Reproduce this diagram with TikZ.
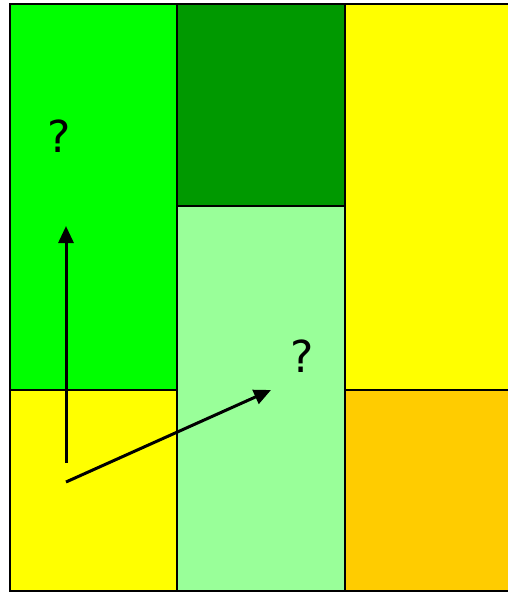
\documentclass[tikz,border=0pt]{standalone}
\usepackage{fontspec}
\setmainfont{DejaVu Sans}
\usetikzlibrary{arrows.meta}
\definecolor{cgreen}{RGB}{0,255,0}
\definecolor{cdark}{RGB}{0,153,0}
\definecolor{clight}{RGB}{153,255,153}
\definecolor{cyel}{RGB}{255,255,0}
\definecolor{corange}{RGB}{255,204,0}
\begin{document}
\begin{tikzpicture}[x=1pt,y=-1pt,
  cell/.style={draw=black,line width=2pt,inner sep=0pt,outer sep=0pt,anchor=north west},
  qmark/.style={font=\fontsize{44}{50}\selectfont,inner sep=0pt},
  arr/.style={line width=3pt,-{Triangle[length=17pt,width=15pt]}}]
\useasboundingbox (0,0) rectangle (508,592);
\node[cell,fill=cgreen,minimum width=167pt,minimum height=386pt] (tl) at (10,4) {};
\node[cell,fill=cyel,minimum width=167pt,minimum height=201pt] (bl) at (10,390) {};
\node[cell,fill=cdark,minimum width=168pt,minimum height=202pt] (tm) at (177,4) {};
\node[cell,fill=clight,minimum width=168pt,minimum height=385pt] (bm) at (177,206) {};
\node[cell,fill=cyel,minimum width=180pt,minimum height=386pt] (tr) at (345,4) {};
\node[cell,fill=corange,minimum width=180pt,minimum height=201pt] (br) at (345,390) {};
\node[qmark] (q1) at (59,136) {?};
\node[qmark] (q2) at (302,356) {?};
\coordinate (s1) at (66,463);
\coordinate (e1) at (66,226);
\coordinate (s2) at (66,482);
\coordinate (e2) at (271,390);
\draw[arr] (s1) -- (e1);
\draw[arr] (s2) -- (e2);
\end{tikzpicture}
\end{document}
